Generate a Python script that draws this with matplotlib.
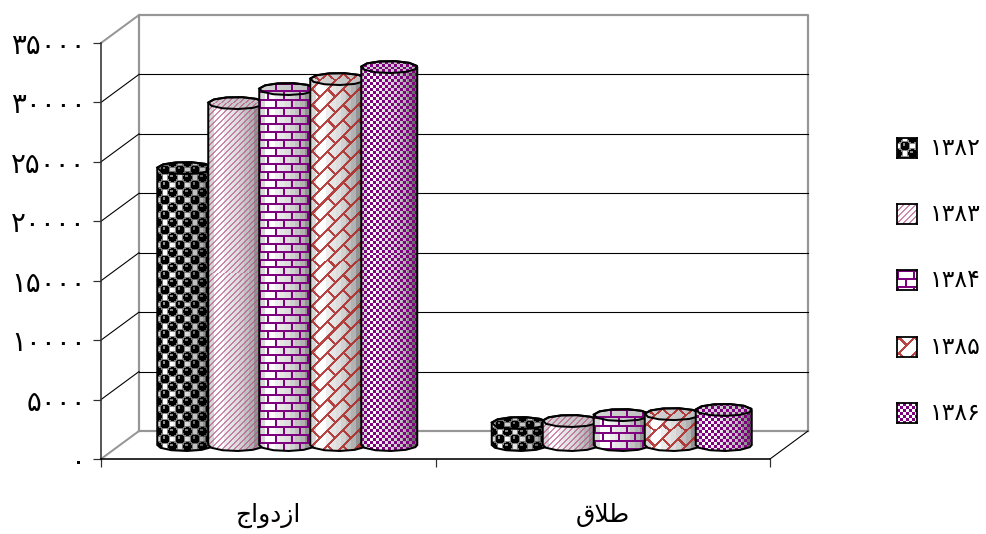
import numpy as np
import matplotlib
matplotlib.use("Agg")
import matplotlib.pyplot as plt
from matplotlib.patches import Polygon
from matplotlib.transforms import Affine2D

# DATA
categories = ["\ufe9d\ufe8d\ufeed\ufea9\ufeaf\ufe8d", "\ufed5\ufefc\ufec3"]  # ازدواج , طلاق in drawing order
years = ["۱۳۸۲", "۱۳۸۳", "۱۳۸۴", "۱۳۸۵", "۱۳۸۶"]
values_1382 = [23300, 1850]
values_1383 = [28770, 2020]
values_1384 = [29950, 2520]
values_1385 = [30790, 2600]
values_1386 = [31800, 2950]
y_ticks = [0, 5000, 10000, 15000, 20000, 25000, 30000, 35000]
y_labels = ["۰", "۵۰۰۰", "۱۰۰۰۰", "۱۵۰۰۰", "۲۰۰۰۰", "۲۵۰۰۰", "۳۰۰۰۰", "۳۵۰۰۰"]

series = [values_1382, values_1383, values_1384, values_1385, values_1386]

# PLOT STUFF
W, H = 986, 534
depth_x, depth_y = 38, 28
bar_w_px = 56
bar_step_px = 51
cap_px = 6.0
wall_c = "#969696"
line_c = "#303030"
px = 72 / 100  # one pixel in points


def depth(d):
    return ax.transData + Affine2D().translate(depth_x * d, depth_y * d)


# textures, each returns foreground strength and colour
def tex_spheres(x, y):
    out = np.zeros_like(x, dtype=float)
    for shift in (0, 7.5):
        xx = (x + shift) % 15 - 7.5
        yy = (y + (shift > 0) * 7.5) % 15 - 7.5
        r = np.hypot(xx, yy)
        out = np.maximum(out, (r < 4.4) * 1.0)
        out = np.maximum(out, ((r >= 4.4) & (r < 5.4)) * 0.45)
        out = np.where((np.hypot(xx + 1, yy + 1.5) < 1.2), 0.45, out)
    return out, (0, 0, 0)


def tex_stripes(x, y):
    return (((x + y) % 6) < 2) * 0.7, (0.72, 0.33, 0.54)


def tex_bricks(x, y):
    row = y // 8
    h_line = (y % 8) < 2
    v_line = ((x + (row % 2) * 8) % 16) < 2
    return (h_line | v_line) * 1.0, (0.50, 0.0, 0.50)


def tex_diag(x, y):
    u = (x + y) / 1.414
    v = (x - y) / 1.414
    row = u // 11
    a = (u % 11) < 2.2
    b = ((v + (row % 2) * 11) % 22) < 2.2
    return (a | b) * 0.85, (0.68, 0.14, 0.14)


def tex_check(x, y):
    return (((x // 3) + (y // 3)) % 2 == 0) * 1.0, (0.50, 0.0, 0.50)


textures = [tex_spheres, tex_stripes, tex_bricks, tex_diag, tex_check]
shade_steps = np.array([0.84, 1.0, 1.0, 0.93, 0.90, 0.87, 0.82, 0.76, 0.70, 0.58, 0.42])


def make_tile(tex, w, h, shade):
    y, x = np.mgrid[0:h, 0:w]
    strength, col = tex(x, y)
    tile = np.ones((h, w, 3))
    tile *= shade[None, :, None]
    for k in range(3):
        tile[:, :, k] = tile[:, :, k] * (1 - strength) + col[k] * strength
    return tile


fig = plt.figure(figsize=(W / 100, H / 100), dpi=100)
ax = fig.add_axes([101 / W, 1 - 459 / H, 669 / W, 416 / H])
ax.set_xlim(0, 2)
ax.set_ylim(0, 35000)
ax.autoscale(False)
ax.patch.set_visible(False)

unit_x = 669 / 2
unit_y = 416 / 35000
cap_y = cap_px / unit_y
bar_w = bar_w_px / unit_x
bar_step = bar_step_px / unit_x

# WALLS
back = depth(1)
ax.plot([0, 0, 2, 2], [0, 35000, 35000, 0], transform=back, color=wall_c, lw=2.2 * px, clip_on=False, zorder=1)
ax.plot([0, 2], [0, 0], transform=back, color=wall_c, lw=2.2 * px, clip_on=False, zorder=1)
for v in y_ticks[1:-1]:
    ax.plot([0, 2], [v, v], transform=back, color="black", lw=1.1 * px, clip_on=False, zorder=1)


def side_line(x, v, color, lw):
    a = ax.transData.transform((x, v))
    xs = [a[0], a[0] + depth_x]
    ys = [a[1], a[1] + depth_y]
    ax.plot(xs, ys, transform=Affine2D(), color=color, lw=lw, clip_on=False, zorder=1)


for v in y_ticks:
    if v in (0, 35000):
        side_line(0, v, wall_c, 2.0 * px)
    else:
        side_line(0, v, "black", 1.1 * px)
side_line(2, 0, "black", 1.1 * px)

# BARS
t = np.linspace(0, 2 * np.pi, 12)[:-1] + 0.2
for c in range(len(categories)):
    for i, vals in enumerate(series):
        val = vals[c]
        xc = c + 0.5 + (i - 2) * bar_step
        z = 3 + i * 2
        tr = depth(0.5)
        ex = xc + bar_w / 2 * np.cos(t)
        ey = cap_y * np.sin(t)
        lower = ey <= 0
        upper = ey > 0
        lo_x, lo_y = ex[lower], ey[lower]
        up_x, up_y = ex[upper], ey[upper]
        lo = np.argsort(lo_x)
        up = np.argsort(up_x)[::-1]
        outline = np.r_[
            np.c_[[xc - bar_w / 2], [0]],
            np.c_[lo_x[lo], lo_y[lo]],
            np.c_[[xc + bar_w / 2], [0]],
            np.c_[[xc + bar_w / 2], [val]],
            np.c_[up_x[up], up_y[up] + val],
            np.c_[[xc - bar_w / 2], [val]],
        ]
        body = Polygon(outline, closed=True, transform=tr, fc="none", ec="black", lw=2.0 * px, zorder=z + 0.5, clip_on=False)
        ax.add_patch(body)

        h_px = int(round(val * unit_y + 2 * cap_px)) + 1
        shade = shade_steps[np.minimum((np.arange(bar_w_px) * len(shade_steps)) // bar_w_px, len(shade_steps) - 1)]
        tile = make_tile(textures[i], bar_w_px, h_px, shade)
        im = ax.imshow(tile, extent=(xc - bar_w / 2, xc + bar_w / 2, -cap_y, val + cap_y), transform=tr,
                       aspect="auto", interpolation="nearest", zorder=z)
        clip = Polygon(outline, closed=True, transform=tr)
        im.set_clip_path(clip)

        # top of the cylinder
        top = np.c_[ex, ey + val]
        cap_h = int(round(2 * cap_px)) + 1
        cap_tile = make_tile(textures[i], bar_w_px, cap_h, np.linspace(0.84, 0.74, bar_w_px))
        cap_im = ax.imshow(cap_tile, extent=(xc - bar_w / 2, xc + bar_w / 2, val - cap_y, val + cap_y), transform=tr,
                           aspect="auto", interpolation="nearest", zorder=z + 0.2)
        cap_im.set_clip_path(Polygon(top, closed=True, transform=tr))
        ax.add_patch(Polygon(top, closed=True, transform=tr, fc="none", ec="black", lw=2.0 * px, zorder=z + 0.6, clip_on=False))

ax.set_xlim(0, 2)
ax.set_ylim(0, 35000)

# AXES
for s in ("top", "right"):
    ax.spines[s].set_visible(False)
ax.spines["left"].set_color(line_c)
ax.spines["bottom"].set_color("black")
ax.spines["left"].set_linewidth(1.6 * px)
ax.spines["bottom"].set_linewidth(1.6 * px)
ax.spines["left"].set_zorder(2)
ax.spines["bottom"].set_zorder(2)
ax.set_yticks(y_ticks, labels=y_labels)
ax.set_xticks([0, 1, 2], labels=["", "", ""])
ax.set_xticks([0.5, 1.5], labels=categories, minor=True)
ax.tick_params(axis="y", length=8 * px, width=1.2 * px, color=line_c, pad=7 * px, labelsize=20)
ax.tick_params(axis="x", which="major", length=8 * px, width=1.2 * px, color=line_c)
ax.tick_params(axis="x", which="minor", length=0, pad=44 * px, labelsize=18)

# LEGEND
swatch_y = [138, 204, 270, 337, 403]
for i, year in enumerate(years):
    sw = fig.add_axes([897 / W, 1 - (swatch_y[i] + 20) / H, 20 / W, 20 / H])
    sw.imshow(make_tile(textures[i], 20, 20, np.ones(20)), aspect="auto", interpolation="nearest")
    sw.set_xticks([])
    sw.set_yticks([])
    for sp in sw.spines.values():
        sp.set_linewidth(1.8 * px)
    fig.text(930 / W, 1 - (swatch_y[i] + 10) / H, year, fontsize=17, va="center", ha="left", color="black")

fig.savefig("out.png", dpi=100, facecolor="white")
